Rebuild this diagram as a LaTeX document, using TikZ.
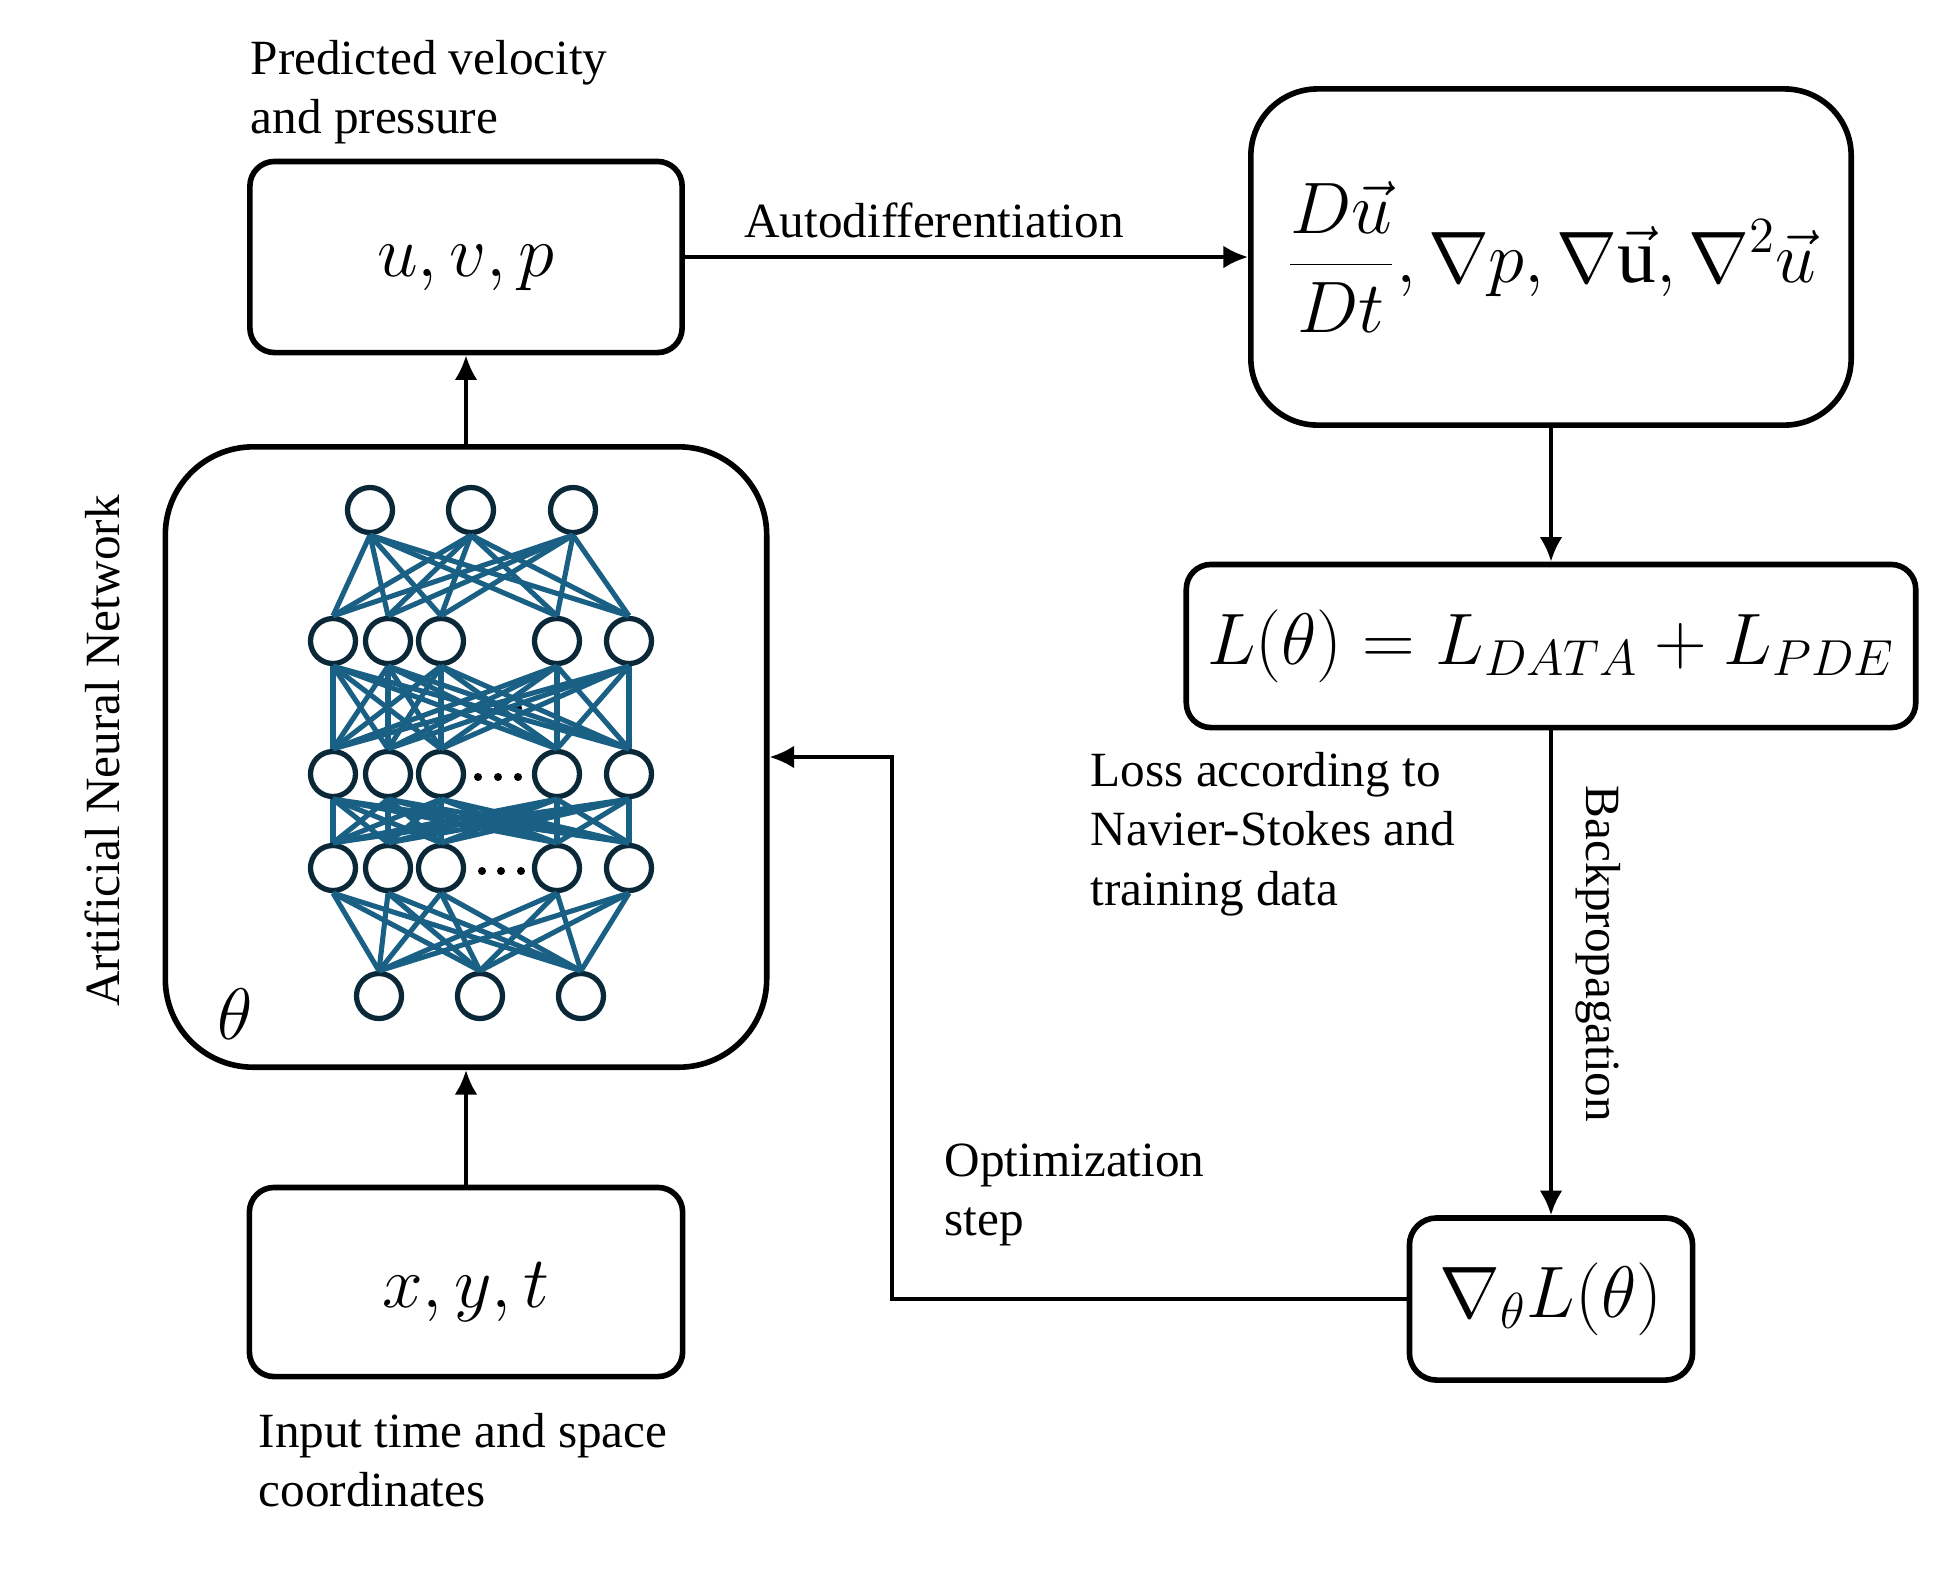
\documentclass[tikz,border=0pt]{standalone}
\usepackage{fontspec}
\setmainfont{Liberation Serif}
\usetikzlibrary{arrows.meta}
\definecolor{edgeblue}{RGB}{26,96,132}
\definecolor{neurondark}{RGB}{10,40,56}
\begin{document}
\begin{tikzpicture}[x=0.01cm, y=-0.01cm,
    box/.style={draw, line width=1.6pt, rounded corners=#1, inner sep=0pt},
    box/.default=7pt,
    eq/.style={font=\fontsize{22}{26}\selectfont},
    txt/.style={font=\fontsize{14}{16.9}\selectfont, align=left, inner sep=0pt},
    arr/.style={line width=1.1pt, -{Latex[length=7pt,width=6.5pt]}},
    neuron/.style={circle, draw=neurondark, line width=1.5pt, minimum size=0.45cm, inner sep=0pt, fill=white},
    link/.style={draw=edgeblue, line width=1.45pt}]
    \useasboundingbox (0,0) rectangle (1943,1569);

    \node[box, eq, minimum width=4.32cm, minimum height=1.91cm] (uvp) at (466,257)
        {\raisebox{-3pt}[\height][\depth]{$u, v, p$}};
    \node[box=19pt, eq, minimum width=6cm, minimum height=3.36cm] (deriv) at (1551,257)
        {$\displaystyle\frac{D\vec{u}}{Dt}{,}\,\nabla p{,}\,\nabla\vec{\mathrm{u}}{,}\,\nabla^2\vec{u}$};
    \node[box, eq, minimum width=7.29cm, minimum height=1.63cm] (loss) at (1551,646)
        {$L(\theta) = L_{DATA} + L_{PDE}$};
    \node[box=7.7pt, eq, minimum width=2.83cm, minimum height=1.62cm] (grad) at (1551,1299)
        {$\nabla_{\theta} L(\theta)$};
    \node[box, eq, minimum width=4.33cm, minimum height=1.89cm] (xyt) at (466,1282)
        {\raisebox{-3pt}[\height][\depth]{$x, y, t$}};
    \node[box=25pt, minimum width=6.01cm, minimum height=6.2cm] (ann) at (466,757) {};
    \node[eq] (theta) at (235,1014) {$\theta$};

    \foreach \x in {478,498,518} \fill (\x,708) circle[radius=0.04cm];
    \foreach \x in {478,498,518} \fill (\x,777) circle[radius=0.04cm];
    \foreach \x in {482,501,521} \fill (\x,871) circle[radius=0.04cm];

    \foreach \x [count=\k] in {370,471,573} \node[neuron] (t\k) at (\x,510) {};
    \foreach \x [count=\k] in {333,388,441,557,629} {
        \node[neuron] (a\k) at (\x,641) {};
        \node[neuron] (b\k) at (\x,774) {};
        \node[neuron] (c\k) at (\x,868) {};
    }
    \foreach \x [count=\k] in {379,480,581} \node[neuron] (o\k) at (\x,996) {};

    \foreach \i in {1,2,3} \foreach \j in {1,...,5} \draw[link] (t\i.south) -- (a\j.north);
    \foreach \i in {1,...,5} \foreach \j in {1,...,5} {
        \draw[link] (a\i.south) -- (b\j.north);
        \draw[link] (b\i.south) -- (c\j.north);
    }
    \foreach \i in {1,...,5} \foreach \j in {1,2,3} \draw[link] (c\i.south) -- (o\j.north);

    \coordinate (bend) at (892,1299);
    \draw[arr] (ann) -- (uvp);
    \draw[arr] (xyt) -- (ann);
    \draw[arr] (uvp) -- (deriv);
    \draw[arr] (deriv) -- (loss);
    \draw[arr] (loss) -- (grad);
    \draw[arr] (grad.west) -- (bend) |- (ann.east);

    \node[txt, anchor=west] (predlabel) at (250,92) {Predicted velocity\\and pressure};
    \node[txt] (autolabel) at (934,220) {Autodifferentiation};
    \node[txt, anchor=west] (losslabel) at (1090,834) {Loss according to\\Navier-Stokes and\\training data};
    \node[txt, rotate=-90] (backlabel) at (1598,954) {Backpropagation};
    \node[txt, anchor=west] (optlabel) at (944,1195) {Optimization\\step};
    \node[txt, anchor=west] (inputlabel) at (258,1460) {Input time and space\\coordinates};
    \node[txt, rotate=90] (annlabel) at (102,751) {Artificial Neural Network};
\end{tikzpicture}
\end{document}
